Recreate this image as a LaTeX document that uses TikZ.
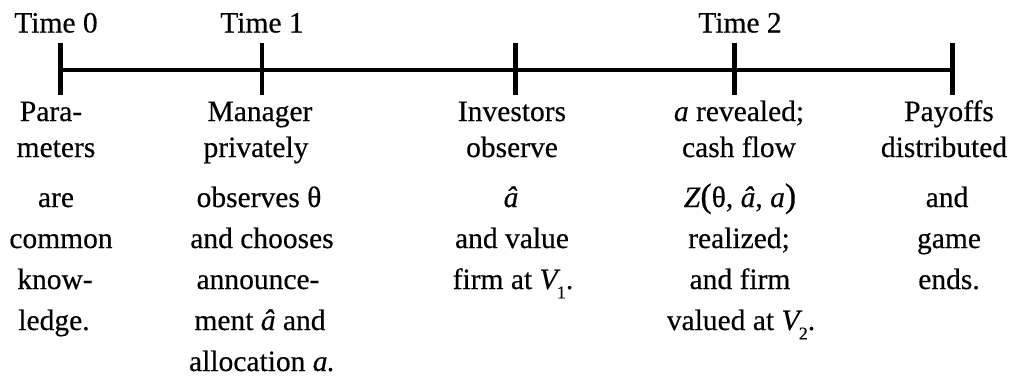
\documentclass[tikz,border=0pt]{standalone}
\usepackage{fontspec}
\setmainfont{Liberation Serif}[UprightFeatures={FakeBold=0.4},ItalicFeatures={FakeBold=0.4}]
\newcommand{\ahat}{\textit{â}}
\newcommand{\sub}[1]{\kern-0.12em\raisebox{-0.32em}{\fontsize{18}{18}\selectfont #1}}
\newcommand{\bigp}[1]{{\fontsize{34}{34}\selectfont #1}}
\begin{document}
\begin{tikzpicture}[x=1pt,y=1pt,
  lbl/.style={anchor=base, inner sep=0pt, font=\fontsize{29.5}{34}\selectfont},
  axisline/.style={line width=4pt},
  tickline/.style={line width=4.5pt}]
\useasboundingbox (0,0) rectangle (1012,376);
% timeline points
\coordinate (t0) at (60.5,306.5);
\coordinate (t1) at (262,306.5);
\coordinate (t2) at (515.5,306.5);
\coordinate (t3) at (734.5,306.5);
\coordinate (t4) at (952.5,306.5);
\foreach \t in {t0,t1,t2,t3,t4}{
  \coordinate (\t a) at ([yshift=26.5pt]\t);
  \coordinate (\t b) at ([yshift=-25pt]\t);
  \draw[tickline] (\t a) -- (\t b);
}
\draw[axisline] (t0) -- (t4);
% time labels
\node[lbl] (time0) at (56,343.5) {Time 0};
\node[lbl] (time1) at (262,343.5) {Time 1};
\node[lbl] (time2) at (740,343.5) {Time 2};
% column 1
\node[lbl] (c1r1) at (51,255) {Para-};
\node[lbl] (c1r2) at (56,219) {meters};
\node[lbl] (c1r3) at (56,169) {are};
\node[lbl] (c1r4) at (61,128) {common};
\node[lbl] (c1r5) at (55,87) {know-};
\node[lbl] (c1r6) at (54,46) {ledge.};
% column 2
\node[lbl] (c2r1) at (260,255) {Manager};
\node[lbl] (c2r2) at (256,219) {privately};
\node[lbl] (c2r3) at (259,169) {observes θ};
\node[lbl] (c2r4) at (262,128) {and chooses};
\node[lbl] (c2r5) at (258,87) {announce-};
\node[lbl] (c2r6) at (260,46) {ment \ahat{} and};
\node[lbl] (c2r7) at (262,5) {allocation \textit{a.}};
% column 3
\node[lbl] (c3r1) at (512,255) {Investors};
\node[lbl] (c3r2) at (512,219) {observe};
\node[lbl] (c3r3) at (511,169) {\ahat};
\node[lbl] (c3r4) at (512,128) {and value};
\node[lbl] (c3r5) at (513,87) {firm at \textit{V}\sub{1}.};
% column 4
\node[lbl] (c4r1) at (739,255) {\textit{a} revealed;};
\node[lbl] (c4r2) at (739,219) {cash flow};
\node[lbl] (c4r3) at (740,169) {\textit{Z}\bigp{(}θ, \ahat, \textit{a}\bigp{)}};
\node[lbl] (c4r4) at (739,128) {realized;};
\node[lbl] (c4r5) at (740,87) {and firm};
\node[lbl] (c4r6) at (741,46) {valued at \textit{V}\sub{2}.};
% column 5
\node[lbl] (c5r1) at (949,255) {Payoffs};
\node[lbl] (c5r2) at (944,219) {distributed};
\node[lbl] (c5r3) at (947,169) {and};
\node[lbl] (c5r4) at (949,128) {game};
\node[lbl] (c5r5) at (949,87) {ends.};
\end{tikzpicture}
\end{document}
